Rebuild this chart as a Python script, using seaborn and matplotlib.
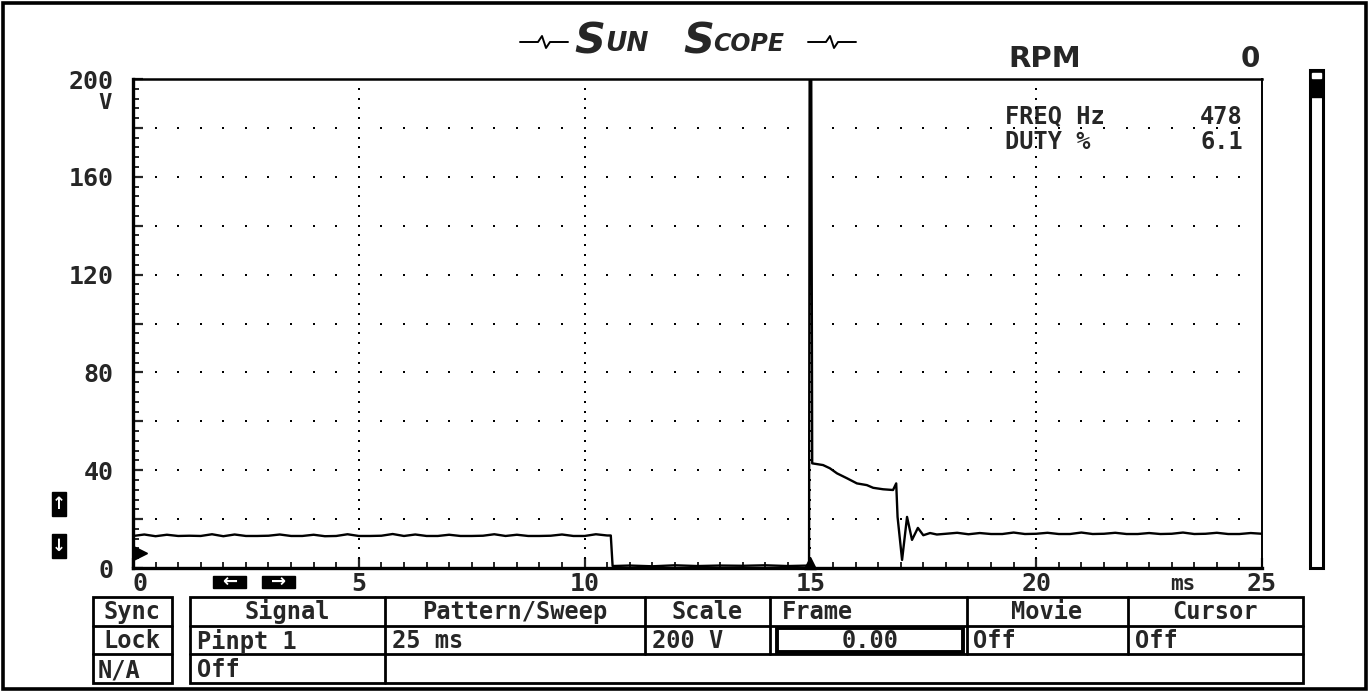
import numpy as np
import pandas as pd
import matplotlib
matplotlib.use("Agg")
import matplotlib.pyplot as plt
from matplotlib.patches import Rectangle
import matplotlib.transforms as mtransforms
import seaborn as sns

# ---------------- data ----------------
time_ms = [
    0.0, 0.25, 0.5, 0.75, 1.0, 1.25, 1.5, 1.75, 2.0, 2.25, 2.5, 2.75, 3.0, 3.25, 3.5, 3.75,
    4.0, 4.25, 4.5, 4.75, 5.0, 5.25, 5.5, 5.75, 6.0, 6.25, 6.5, 6.75, 7.0, 7.25, 7.5, 7.75,
    8.0, 8.25, 8.5, 8.75, 9.0, 9.25, 9.5, 9.75, 10.0, 10.25, 10.5, 10.58,
    10.62, 11.0, 11.5, 12.0, 12.5, 13.0, 13.5, 14.0, 14.5, 14.97,
    14.985, 15.015, 15.04,
    15.28, 15.43, 15.59, 15.81, 16.03, 16.25, 16.39, 16.61, 16.83, 16.9,
    16.93, 17.03, 17.14, 17.25, 17.38, 17.5, 17.65, 17.8,
    18.0, 18.25, 18.5, 18.75, 19.0, 19.25, 19.5, 19.75, 20.0, 20.25, 20.5, 20.75,
    21.0, 21.25, 21.5, 21.75, 22.0, 22.25, 22.5, 22.75, 23.0, 23.25, 23.5, 23.75,
    24.0, 24.25, 24.5, 24.75, 25.0,
]
volts = [
    13.1, 13.7, 13.0, 13.6, 13.1, 13.2, 13.1, 13.8, 13.0, 13.7, 13.1, 13.1, 13.2, 13.7, 13.1, 13.1,
    13.6, 13.0, 13.1, 13.8, 13.1, 13.1, 13.2, 13.9, 13.1, 13.7, 13.1, 13.1, 13.6, 13.1, 13.1, 13.2,
    13.8, 13.1, 13.6, 13.1, 13.1, 13.2, 13.7, 13.1, 13.1, 13.8, 13.3, 13.3,
    0.8, 1.0, 0.7, 1.1, 0.8, 1.0, 0.9, 1.1, 0.8, 1.0,
    230.0, 230.0, 42.8,
    42.1, 40.8, 38.7, 36.7, 34.6, 33.9, 32.8, 32.2, 31.9, 34.6,
    20.9, 3.3, 20.9, 11.5, 16.4, 13.4, 14.3, 13.7,
    14.0, 14.4, 13.8, 14.3, 13.9, 13.9, 14.5, 13.9, 14.0, 14.4, 13.9, 13.9,
    14.5, 13.9, 14.0, 14.4, 13.9, 13.9, 14.3, 13.9, 14.0, 14.5, 13.9, 14.0,
    14.4, 13.9, 13.9, 14.3, 14.0,
]
y_tick_values = [0, 20, 40, 60, 80, 100, 120, 140, 160, 180, 200]
y_tick_labels = ["0", "", "40", "", "80", "", "120", "", "160", "", "200"]
x_tick_values = [0, 5, 10, 15, 20, 25]
x_tick_labels = ["0", "5", "10", "15", "20", "25"]
trigger_time = 15.0
trigger_level = 6.0

rpm_value = "0"
freq_hz = "478"
duty_pct = "6.1"

table_headers = ["Signal", "Pattern/Sweep", "Scale", "Frame", "Movie", "Cursor"]
table_values = ["Pinpt 1", "25 ms", "200 V", "0.00", "Off", "Off"]
sync_labels = ["Sync", "Lock", "N/A"]
signal_row3 = "Off"

df = pd.DataFrame({"time_ms": time_ms, "volts": volts})

# ---------------- style ----------------
sns.set_style("white")
plt.rcParams["font.family"] = ["DejaVu Sans Mono", "DejaVu Sans"]
plt.rcParams["font.weight"] = "bold"

W, H = 1370, 698
fig = plt.figure(figsize=(W / 100, H / 100), dpi=100)
fig.patch.set_facecolor("white")

# overlay in pixel coordinates for the instrument decorations
ov = fig.add_axes([0, 0, 1, 1], zorder=0)
ov.set_xlim(0, W)
ov.set_ylim(H, 0)
ov.axis("off")

# main scope axes
x0, x1, y0, y1 = 133, 1262, 568, 79
ax = fig.add_axes([x0 / W, 1 - y0 / H, (x1 - x0) / W, (y0 - y1) / H], zorder=2)
ax.patch.set_alpha(0)

# dotted graticule
gx, gy = np.meshgrid(np.arange(0.5, 25, 0.5), np.arange(20, 200, 20))
ax.scatter(gx.ravel(), gy.ravel(), s=2.2, marker="s", color="black", linewidths=0, zorder=1)
vx, vy = np.meshgrid([5, 10, 15, 20], np.arange(4, 200, 4))
ax.scatter(vx.ravel(), vy.ravel(), s=2.2, marker="s", color="black", linewidths=0, zorder=1)

sns.lineplot(data=df, x="time_ms", y="volts", ax=ax, color="black", linewidth=1.7,
             estimator=None, sort=False, zorder=3)

# trigger markers
tri_up = mtransforms.offset_copy(ax.transData, fig=fig, x=0, y=3.5, units="points")
ax.plot([trigger_time], [0], marker="^", markersize=9, color="black", clip_on=False,
        zorder=4, transform=tri_up)
tri_right = mtransforms.offset_copy(ax.transData, fig=fig, x=5, y=0, units="points")
ax.plot([0], [trigger_level], marker=">", markersize=10, color="black", clip_on=False,
        zorder=4, transform=tri_right)

ax.set_xlim(0, 25)
ax.set_ylim(0, 200)
ax.set_xlabel("")
ax.set_ylabel("")
ax.set_yticks(y_tick_values)
ax.set_yticklabels(y_tick_labels)
ax.set_yticks(np.arange(0, 201, 4), minor=True)
ax.set_xticks(x_tick_values)
ax.set_xticklabels(x_tick_labels)
ax.set_xticks(np.arange(0, 25.01, 0.5), minor=True)
ax.tick_params(axis="y", which="major", direction="in", length=7, width=1.6, pad=14,
               labelsize=18, left=True)
ax.tick_params(axis="y", which="minor", direction="in", length=4, width=1.4, left=True)
ax.tick_params(axis="x", which="major", direction="in", length=7, width=1.6, pad=3,
               labelsize=18, bottom=True)
ax.tick_params(axis="x", which="minor", direction="in", length=4, width=1.4, bottom=True)
for lab in ax.get_xticklabels() + ax.get_yticklabels():
    lab.set_fontweight("bold")
    lab.set_family("DejaVu Sans Mono")
ax.get_xticklabels()[0].set_horizontalalignment("left")
for s, lw in [("left", 2.4), ("bottom", 2.4), ("top", 1.8), ("right", 1.4)]:
    ax.spines[s].set_visible(True)
    ax.spines[s].set_linewidth(lw)
    ax.spines[s].set_color("black")

# ---------------- decorations ----------------
mono = "DejaVu Sans Mono"
ov.add_patch(Rectangle((3, 3), 1363, 686, fill=False, lw=2.6, ec="black"))

ov.text(112, 93, "V", ha="right", va="top", fontsize=16, fontweight="bold", family=mono)
ov.text(1183, 584, "ms", ha="center", va="center", fontsize=15, fontweight="bold", family=mono)

# title
def pulse(xs):
    ov.plot([xs, xs + 18, xs + 22, xs + 26, xs + 30, xs + 48],
            [42, 42, 36, 48, 42, 42], color="black", lw=1.4)
pulse(520)
pulse(808)
ov.text(574, 53, "S", fontsize=31, fontstyle="italic", fontweight="bold", family="DejaVu Sans")
ov.text(605, 51, "UN", fontsize=19, fontstyle="italic", fontweight="bold", family="DejaVu Sans")
ov.text(683, 53, "S", fontsize=31, fontstyle="italic", fontweight="bold", family="DejaVu Sans")
ov.text(713, 51, "COPE", fontsize=17, fontstyle="italic", fontweight="bold", family="DejaVu Sans")

# RPM / readouts
ov.text(1008, 59, "RPM", ha="left", va="center", fontsize=21, fontweight="bold", family="DejaVu Sans")
ov.text(1250, 59, rpm_value, ha="center", va="center", fontsize=20, fontweight="bold", family="DejaVu Sans")
ov.text(1005, 117, "FREQ Hz", ha="left", va="center", fontsize=17, fontweight="bold", family=mono)
ov.text(1243, 117, freq_hz, ha="right", va="center", fontsize=17, fontweight="bold", family=mono)
ov.text(1005, 142, "DUTY %", ha="left", va="center", fontsize=17, fontweight="bold", family=mono)
ov.text(1243, 142, duty_pct, ha="right", va="center", fontsize=17, fontweight="bold", family=mono)

# scroll bar
ov.add_patch(Rectangle((1310, 70), 13, 498, fill=False, lw=2.2, ec="black"))
ov.add_patch(Rectangle((1310, 70), 13, 27, color="black"))
ov.add_patch(Rectangle((1312, 73), 9, 5, color="white"))

# arrow buttons
for (bx, by, bw, bh, g) in [(52, 492, 14, 24, "\u2191"), (52, 534, 14, 24, "\u2193"),
                            (213, 576, 33, 12, "\u2190"), (262, 576, 33, 12, "\u2192")]:
    ov.add_patch(Rectangle((bx, by), bw, bh, color="black"))
    ov.text(bx + bw / 2, by + bh / 2, g, ha="center", va="center", color="white",
            fontsize=12 if bw < 20 else 13, fontweight="bold", family="DejaVu Sans")

# bottom menu table
rows = [597, 626, 654, 683]
ov.add_patch(Rectangle((93, 597), 79, 86, fill=False, lw=2, ec="black"))
for yy in rows[1:3]:
    ov.plot([93, 172], [yy, yy], color="black", lw=2)
ov.add_patch(Rectangle((190, 597), 1113, 86, fill=False, lw=2, ec="black"))
for yy in rows[1:3]:
    ov.plot([190, 1303], [yy, yy], color="black", lw=2)
cols = [190, 385, 645, 770, 967, 1128, 1303]
for cx in cols[1:-1]:
    ov.plot([cx, cx], [597, 654], color="black", lw=2)
ov.plot([385, 385], [654, 683], color="black", lw=2)
ov.add_patch(Rectangle((777, 628), 186, 24, fill=False, lw=2.8, ec="black"))

fs = 17
ov.text(132, 612, sync_labels[0], ha="center", va="center", fontsize=fs, fontweight="bold", family=mono)
ov.text(132, 641, sync_labels[1], ha="center", va="center", fontsize=fs, fontweight="bold", family=mono)
ov.text(98, 670, sync_labels[2], ha="left", va="center", fontsize=fs, fontweight="bold", family=mono)

header_x = [287, 515, 707, 782, 1047, 1215]
header_ha = ["center", "center", "center", "left", "center", "center"]
for h, hx, ha in zip(table_headers, header_x, header_ha):
    ov.text(hx, 612, h, ha=ha, va="center", fontsize=fs, fontweight="bold", family=mono)
value_x = [197, 392, 652, 870, 973, 1135]
value_ha = ["left", "left", "left", "center", "left", "left"]
for v, vx_, ha in zip(table_values, value_x, value_ha):
    ov.text(vx_, 641, v, ha=ha, va="center", fontsize=fs, fontweight="bold", family=mono)
ov.text(197, 670, signal_row3, ha="left", va="center", fontsize=fs, fontweight="bold", family=mono)

fig.savefig("out.png", dpi=100, facecolor="white")
